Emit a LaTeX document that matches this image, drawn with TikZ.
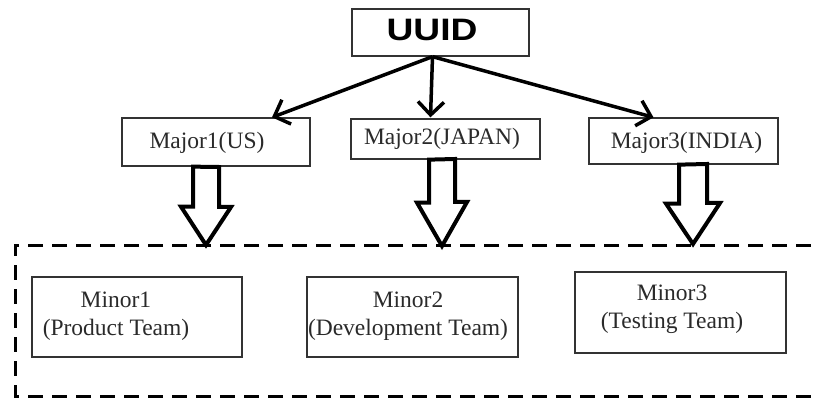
\documentclass[tikz,border=0pt]{standalone}
\usepackage{fontspec}
\usepackage{graphicx}
\setmainfont{Liberation Serif}
\newfontfamily\uuidfont{Liberation Sans}
\usetikzlibrary{arrows.meta,calc}
\definecolor{boxline}{HTML}{333333}
\definecolor{txtcol}{HTML}{2A2A2A}
\tikzset{
  box/.style={draw=boxline, line width=1.3pt, fill=white, inner sep=0pt},
  majtxt/.style={text=txtcol, font=\fontsize{23.5}{27}\selectfont, inner sep=0pt},
  mintxt/.style={text=txtcol, font=\fontsize{23.5}{28}\selectfont, align=center, inner sep=0pt},
  link/.style={line width=3.5pt, -{Straight Barb[length=13pt,width=26pt,line width=3.5pt]}},
  hollow/.style={draw=black, line width=4pt, line join=miter, fill=white},
  frame/.style={line width=3pt, dash pattern=on 15pt off 9pt}
}
\begin{document}
\begin{tikzpicture}[x=1pt,y=-1pt]
\useasboundingbox (0,0) rectangle (819,398);
\fill[white] (0,0) rectangle (819,398);
\begin{scope}
\clip (0,0) rectangle (819,398);
% dashed frame (open at the right)
\draw[frame] (835,245) -- (15,245) -- (15,396) -- (835,396);
\end{scope}

% top box
\node[box, minimum width=177pt, minimum height=47pt] (uuid) at (440.5,32.5) {};
\node[inner sep=0pt, font=\uuidfont\bfseries\fontsize{31}{31}\selectfont] (uuidtxt) at (432,30) {\scalebox{1.2}[1]{UUID}};

% major boxes
\node[box, minimum width=188pt, minimum height=48pt] (maj1) at (216,142) {};
\node[majtxt] (maj1txt) at (207,143) {Major1(US)};
\node[box, minimum width=189pt, minimum height=40pt] (maj2) at (445.5,139) {};
\node[majtxt] (maj2txt) at (442,139) {Major2(JAPAN)};
\node[box, minimum width=189pt, minimum height=46pt] (maj3) at (683.5,141) {};
\node[majtxt] (maj3txt) at (686.5,143) {Major3(INDIA)};

% minor boxes
\node[box, minimum width=210pt, minimum height=80pt] (min1) at (137,317) {};
\node[mintxt] (min1txt) at (116,316) {Minor1\\(Product Team)};
\node[box, minimum width=211pt, minimum height=80pt] (min2) at (412.5,317) {};
\node[mintxt] (min2txt) at (408,316) {Minor2\\(Development Team)};
\node[box, minimum width=211pt, minimum height=81pt] (min3) at (680.5,312.5) {};
\node[mintxt] (min3txt) at (672,309) {Minor3\\(Testing Team)};

% connectors from UUID
\coordinate (src) at ($(uuid.south)+(-8,0)$);
\coordinate (t1) at ($(maj1.north)+(56,0)$);
\coordinate (t2) at ($(maj2.north)+(-15,-1)$);
\coordinate (t3) at ($(maj3.north)+(-30,0)$);
\draw[link] (src) -- (t1);
\draw[link] (src) -- (t2);
\draw[link] (src) -- (t3);

% hollow block arrows down to the dashed frame
\coordinate (h1) at (206,245);
\coordinate (h2) at (442,246);
\coordinate (h3) at (693,244);
\draw[hollow] (h1 |- maj1.south) ++(-13,0) -- ++(0,40) -- ++(-12,0) -- (h1) -- ++(25,-38) -- ++(-12,0) -- ++(0,-40) -- cycle;
\draw[hollow] (h2 |- maj2.south) ++(-13,0) -- ++(0,43) -- ++(-12,0) -- (h2) -- ++(25,-44) -- ++(-12,0) -- ++(0,-43) -- cycle;
\draw[hollow] (h3 |- maj3.south) ++(-14,0) -- ++(0,39) -- ++(-13,0) -- (h3) -- ++(27,-41) -- ++(-13,0) -- ++(0,-39) -- cycle;
\end{tikzpicture}
\end{document}
